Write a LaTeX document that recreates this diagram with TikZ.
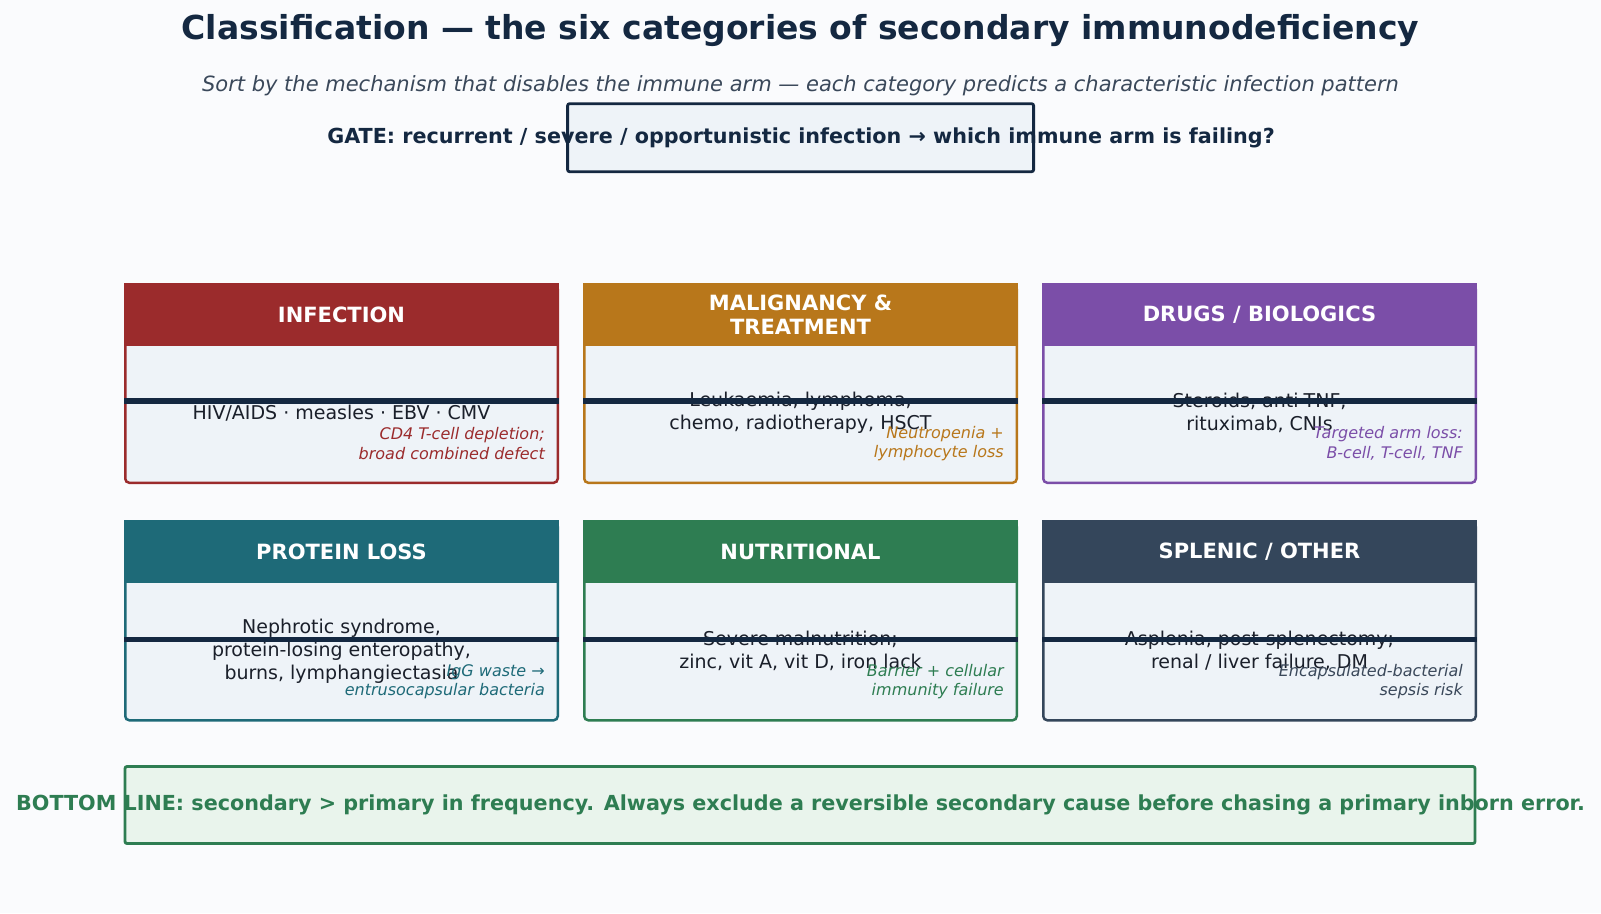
\documentclass[tikz,border=0pt]{standalone}
\usepackage{fontspec}
\setmainfont{DejaVu Sans}
\usepackage{xcolor}
\usepackage{tikz}
\usetikzlibrary{positioning, calc}
\definecolor{cbg}{RGB}{250,251,253}
\definecolor{cnavy}{RGB}{20,40,65}
\definecolor{csub}{RGB}{58,72,90}
\definecolor{ctext}{RGB}{26,31,42}
\definecolor{cbody}{RGB}{238,243,248}
\definecolor{cinf}{RGB}{155,43,44}
\definecolor{cmal}{RGB}{184,119,27}
\definecolor{cdrug}{RGB}{123,78,168}
\definecolor{cprot}{RGB}{30,106,120}
\definecolor{cnutr}{RGB}{46,125,82}
\definecolor{cspl}{RGB}{52,70,91}
\definecolor{cbot}{RGB}{233,244,236}

\begin{document}
\begin{tikzpicture}[
  x=1pt, y=-1pt,
  card/.style    = {rectangle, rounded corners=4pt, draw=#1, fill=cbody,
                    line width=2.5pt, minimum width=432.5pt,
                    minimum height=197.5pt, inner sep=0pt},
  head/.style    = {rectangle, fill=#1, minimum width=435pt,
                    minimum height=63pt, inner sep=0pt, text=white,
                    align=center, font=\fontsize{21}{24}\selectfont\bfseries},
  body/.style    = {align=center, text=ctext, font=\fontsize{19}{22.5}\selectfont},
  note/.style    = {align=right, text=#1, anchor=east, inner sep=0pt,
                    font=\fontsize{16}{19.5}\selectfont\itshape},
  divider/.style = {line width=5.5pt, cnavy},
  banner/.style  = {rectangle, rounded corners=2pt, line width=2.8pt, inner sep=0pt},
]
\fill[cbg] (0,0) rectangle (1601,913);
\useasboundingbox (0,0) rectangle (1601,913);

% title block
\node[text=cnavy, font=\fontsize{33}{39}\selectfont\bfseries] (title) at (800.5,31)
  {Classification — the six categories of secondary immunodeficiency};
\node[text=csub, font=\fontsize{21}{25}\selectfont\itshape] (sub) at (800.5,86)
  {Sort by the mechanism that disables the immune arm — each category predicts a characteristic infection pattern};
\node[banner, draw=cnavy, fill=cbody, minimum width=466pt, minimum height=68pt] (gate) at (800.6,137.7) {};
\node[text=cnavy, font=\fontsize{20.7}{25}\selectfont\bfseries] (gatetxt) at (801,138)
  {GATE: recurrent / severe / opportunistic infection → which immune arm is failing?};

% row 1
\node[card=cinf] (inf) at (341.5,384) {};
\node[head=cinf, anchor=north] (infh) at ([yshift=1.25pt]inf.north) {INFECTION};
\node[body] (infb) at (341.5,413) {HIV/AIDS · measles · EBV · CMV};
\draw[divider] ([yshift=-116.75pt]inf.north west) -- ([yshift=-116.75pt]inf.north east);
\node[note=cinf] (infn) at (545,443.5) {CD4 T-cell depletion;\\broad combined defect};

\node[card=cmal] (mal) at (800.5,384) {};
\node[head=cmal, anchor=north] (malh) at ([yshift=1.25pt]mal.north) {MALIGNANCY \&\\TREATMENT};
\node[body] (malb) at (800.5,413) {Leukaemia, lymphoma,\\chemo, radiotherapy, HSCT};
\draw[divider] ([yshift=-116.75pt]mal.north west) -- ([yshift=-116.75pt]mal.north east);
\node[note=cmal] (maln) at (1004,443.5) {Neutropenia +\\lymphocyte loss};

\node[card=cdrug] (drug) at (1259.5,384) {};
\node[head=cdrug, anchor=north] (drugh) at ([yshift=1.25pt]drug.north) {DRUGS / BIOLOGICS};
\node[body] (drugb) at (1259.5,413) {Steroids, anti-TNF,\\rituximab, CNIs};
\draw[divider] ([yshift=-116.75pt]drug.north west) -- ([yshift=-116.75pt]drug.north east);
\node[note=cdrug] (drugn) at (1463,443.5) {Targeted arm loss:\\B-cell, T-cell, TNF};

% row 2
\node[card=cprot] (prot) at (341.5,621.5) {};
\node[head=cprot, anchor=north] (proth) at ([yshift=1.25pt]prot.north) {PROTEIN LOSS};
\node[body, font=\fontsize{19}{23}\selectfont] (protb) at (341.5,651) {Nephrotic syndrome,\\protein-losing enteropathy,\\burns, lymphangiectasia};
\draw[divider] ([yshift=-117.75pt]prot.north west) -- ([yshift=-117.75pt]prot.north east);
\node[note=cprot] (protn) at (545,681.5) {IgG waste →\\entrusocapsular bacteria};

\node[card=cnutr] (nutr) at (800.5,621.5) {};
\node[head=cnutr, anchor=north] (nutrh) at ([yshift=1.25pt]nutr.north) {NUTRITIONAL};
\node[body] (nutrb) at (800.5,651) {Severe malnutrition;\\zinc, vit A, vit D, iron lack};
\draw[divider] ([yshift=-117.75pt]nutr.north west) -- ([yshift=-117.75pt]nutr.north east);
\node[note=cnutr] (nutrn) at (1004,681.5) {Barrier + cellular\\immunity failure};

\node[card=cspl] (spl) at (1259.5,621.5) {};
\node[head=cspl, anchor=north] (splh) at ([yshift=1.25pt]spl.north) {SPLENIC / OTHER};
\node[body] (splb) at (1259.5,651) {Asplenia, post-splenectomy;\\renal / liver failure, DM};
\draw[divider] ([yshift=-117.75pt]spl.north west) -- ([yshift=-117.75pt]spl.north east);
\node[note=csub] (spln) at (1463,681.5) {Encapsulated-bacterial\\sepsis risk};

% bottom line
\node[banner, draw=cnutr, fill=cbot, minimum width=1350pt, minimum height=77pt] (bottom) at (800,805) {};
\node[text=cnutr, font=\fontsize{20.7}{25}\selectfont\bfseries] (bottomtxt) at (800.5,805)
  {BOTTOM LINE: secondary > primary in frequency. Always exclude a reversible secondary cause before chasing a primary inborn error.};
\end{tikzpicture}
\end{document}
